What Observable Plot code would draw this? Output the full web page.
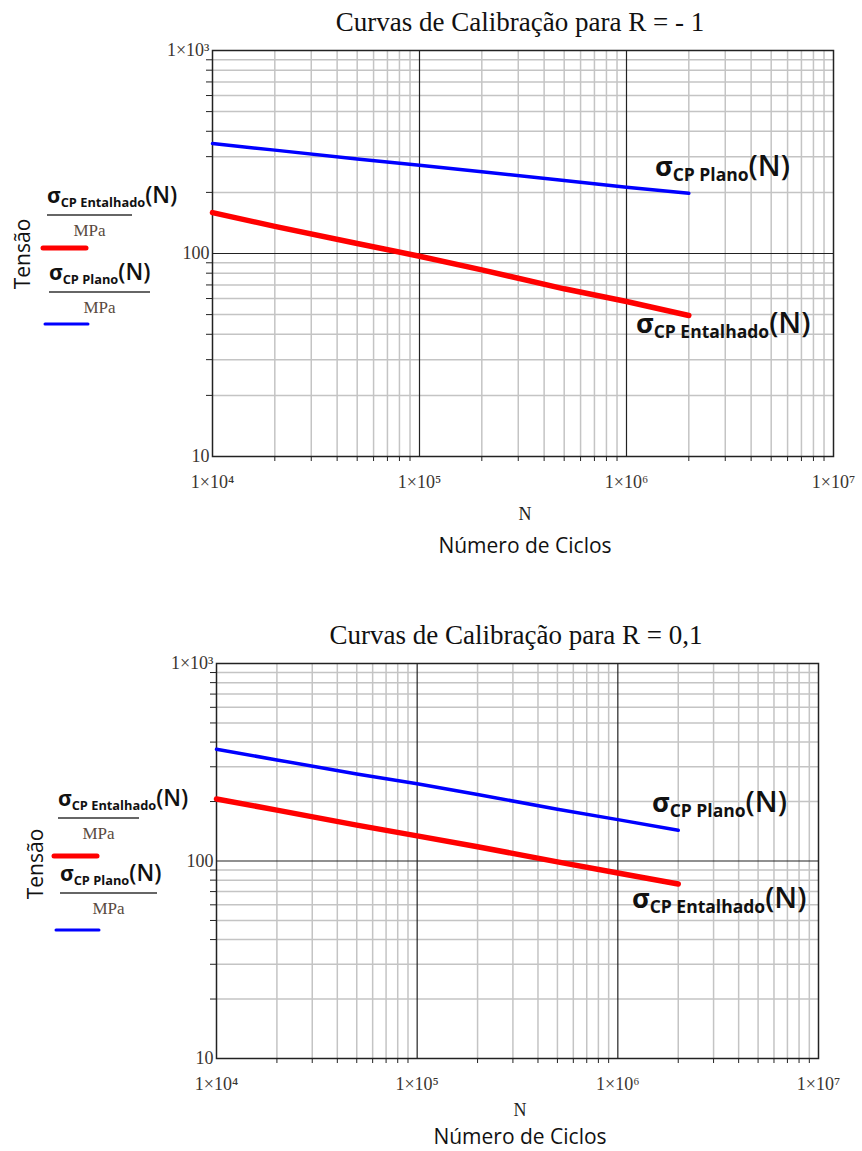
<!DOCTYPE html>
<html><head><meta charset="utf-8">
<script src="https://cdn.jsdelivr.net/npm/d3@7"></script>
<script src="https://cdn.jsdelivr.net/npm/@observablehq/plot@0.6"></script>
<style>
html,body{margin:0;padding:0;background:#fff;}
#wrap{position:relative;width:862px;height:1151px;overflow:hidden;}
#wrap svg{position:absolute;left:0;}
</style></head>
<body><div id="wrap"></div>
<script>
// ---- data ----
const cycles = [1e4, 2e4, 5e4, 1e5, 2e5, 5e5, 1e6, 2e6];
// R = -1
const planoR1 = [348, 323, 292, 272, 253, 229, 212, 198];
const entalhadoR1 = [159, 136, 112, 97, 83, 67, 58, 49.5];
// R = 0,1
const planoR01 = [368, 325, 276, 246, 217, 183, 162, 143];
const entalhadoR01 = [206, 181, 152, 134, 118, 99, 87, 76.5];

const xMajorTicks = [1e4, 1e5, 1e6, 1e7];
const yMajorTicks = [10, 100, 1000];
const titles = ["Curvas de Calibração para R = - 1", "Curvas de Calibração para R = 0,1"];

const sup = {"0":"⁰","1":"¹","2":"²","3":"³","4":"⁴","5":"⁵","6":"⁶","7":"⁷","8":"⁸","9":"⁹"};
const fmtPow = d => "1×10" + String(Math.round(Math.log10(d))).split("").map(c => sup[c]).join("");

function minorTicks(lo, hi) {
  const out = [];
  for (let p = lo; p < hi; p++) for (let m = 2; m <= 9; m++) out.push(m * 10 ** p);
  return out;
}

const wrap = document.getElementById("wrap");

function makeChart(cfg) {
  const rows = cycles.map((n, i) => ({N: n, s: cfg.plano[i], serie: "plano"}));
  const rowsE = cycles.map((n, i) => ({N: n, s: cfg.entalhado[i], serie: "entalhado"}));
  const minorX = minorTicks(4, 7);
  const minorY = minorTicks(1, 3);
  const svg = Plot.plot({
    width: 862, height: cfg.height,
    marginTop: cfg.mt, marginBottom: cfg.mb, marginLeft: cfg.ml, marginRight: cfg.mr,
    x: {type: "log", domain: [1e4, 1e7]},
    y: {type: "log", domain: [10, 1000]},
    style: {fontFamily: "'Liberation Serif', serif", fontSize: "17px", color: "#3a3530", background: "white", overflow: "visible"},
    marks: [
      Plot.ruleX(minorX, {stroke: "#c4c4c4", strokeWidth: 1.5}),
      Plot.ruleY(minorY, {stroke: "#c4c4c4", strokeWidth: 1.5}),
      Plot.ruleX([1e5, 1e6], {stroke: "#222", strokeWidth: 1.2}),
      Plot.ruleY([100], {stroke: "#222", strokeWidth: 1.2}),
      Plot.frame({stroke: "#222", strokeWidth: 1.5}),
      Plot.axisX(minorX, {tickSize: 5, tickFormat: () => "", label: null, stroke: "#222"}),
      Plot.axisY(minorY, {tickSize: 6, tickFormat: () => "", label: null, stroke: "#222"}),
      Plot.axisX(xMajorTicks, {tickSize: 0, tickPadding: 19, tickFormat: fmtPow, label: null, fontSize: 18}),
      Plot.axisY(yMajorTicks, {tickSize: 0, tickPadding: 3, tickFormat: d => d === 1000 ? fmtPow(d) : String(d), label: null, fontSize: 18}),
      Plot.line(rowsE, {x: "N", y: "s", stroke: "#ff0000", strokeWidth: 5.5}),
      Plot.line(rows, {x: "N", y: "s", stroke: "#0000ff", strokeWidth: 3.5})
    ]
  });
  svg.style.top = cfg.top + "px";
  wrap.appendChild(svg);
  const g = d3.select(svg).append("g").attr("text-anchor", "start");
  const off = cfg.top;
  // title
  g.append("text").attr("x", cfg.titleX).attr("y", cfg.titleY - off).attr("text-anchor", "middle")
    .attr("font-family", "'Liberation Serif', serif").attr("font-size", 27).attr("fill", "#111").text(cfg.title);
  // x axis labels
  g.append("text").attr("x", cfg.nX).attr("y", cfg.nY - off).attr("text-anchor", "middle")
    .attr("font-family", "'Liberation Serif', serif").attr("font-size", 18).attr("fill", "#222").text("N");
  g.append("text").attr("x", cfg.nX).attr("y", cfg.ncY - off).attr("text-anchor", "middle")
    .attr("font-family", "'Open Sans', sans-serif").attr("font-size", 21).attr("fill", "#111").text("Número de Ciclos");
  // Tensão
  g.append("text").attr("transform", `translate(${cfg.tX},${cfg.tY - off}) rotate(-90)`).attr("text-anchor", "middle")
    .attr("dominant-baseline", "middle")
    .attr("font-family", "'Open Sans', sans-serif").attr("font-size", 21).attr("fill", "#111").text("Tensão");
  // sigma labels
  function sigma(x, y, sub, big, small) {
    const t = g.append("text").attr("x", x).attr("y", y - off).attr("text-anchor", "start")
      .attr("font-family", "'Open Sans', sans-serif").attr("font-weight", "bold").attr("fill", "#111");
    t.append("tspan").attr("font-size", big).text("σ");
    t.append("tspan").attr("font-size", small).attr("dy", big * 0.2).text(sub);
    t.append("tspan").attr("font-size", big * 1.08).attr("font-weight", "600").attr("dy", -big * 0.2).text("(N)");
  }
  // legend
  cfg.legend.forEach(L => {
    sigma(L.x, L.y - 2, L.sub, 21, 12.8);
    g.append("line").attr("x1", L.x).attr("x2", L.lineEnd).attr("y1", L.y + 10 - off).attr("y2", L.y + 10 - off)
      .attr("stroke", "#333").attr("stroke-width", 1.3);
    g.append("text").attr("x", (L.x + L.lineEnd) / 2).attr("y", L.y + 31 - off).attr("text-anchor", "middle")
      .attr("font-family", "'Liberation Serif', serif").attr("font-size", 17).attr("fill", "#5a4a40").text("MPa");
    g.append("line").attr("x1", L.x - 4).attr("x2", L.x + 39).attr("y1", L.swY - off).attr("y2", L.swY - off)
      .attr("stroke", L.color).attr("stroke-width", L.sw).attr("stroke-linecap", "round");
  });
  cfg.notes.forEach(n => sigma(n.x, n.y, n.sub, 27, 17.5));
}

makeChart({
  top: 0, height: 560, mt: 50, mb: 104, ml: 212, mr: 29,
  plano: planoR1, entalhado: entalhadoR1, title: titles[0],
  titleX: 520, titleY: 31, nX: 525, nY: 520, ncY: 553, tX: 24, tY: 254,
  legend: [
    {x: 47, y: 205, lineEnd: 132, sub: "CP Entalhado", swY: 248, color: "#ff0000", sw: 5},
    {x: 49, y: 282, lineEnd: 150, sub: "CP Plano", swY: 324, color: "#0000ff", sw: 3}
  ],
  notes: [
    {x: 655, y: 176, sub: "CP Plano"},
    {x: 636, y: 333, sub: "CP Entalhado"}
  ]
});
makeChart({
  top: 600, height: 551, mt: 63, mb: 93, ml: 216, mr: 44,
  plano: planoR01, entalhado: entalhadoR01, title: titles[1],
  titleX: 516, titleY: 644, nX: 520, nY: 1116, ncY: 1144, tX: 37, tY: 864,
  legend: [
    {x: 58, y: 808, lineEnd: 139, sub: "CP Entalhado", swY: 856, color: "#ff0000", sw: 5},
    {x: 60, y: 883, lineEnd: 157, sub: "CP Plano", swY: 930, color: "#0000ff", sw: 3}
  ],
  notes: [
    {x: 652, y: 812, sub: "CP Plano"},
    {x: 632, y: 908, sub: "CP Entalhado"}
  ]
});
</script></body></html>
